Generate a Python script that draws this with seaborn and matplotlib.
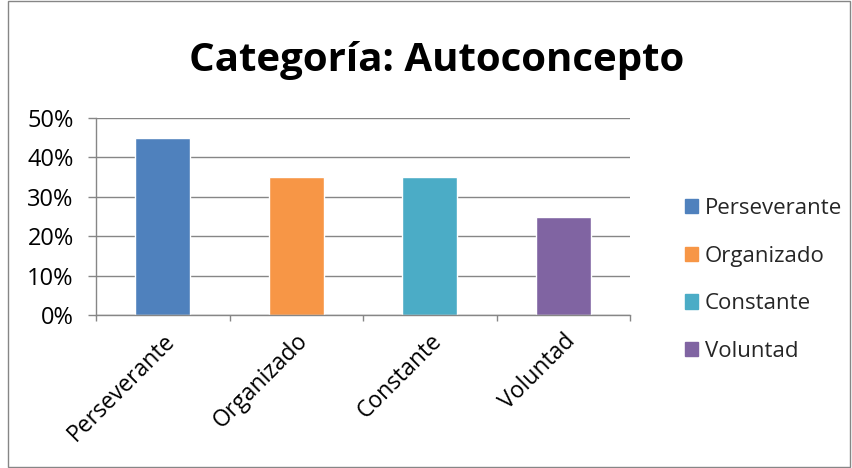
import matplotlib
matplotlib.use("Agg")
import matplotlib.pyplot as plt
import seaborn as sns
import pandas as pd
from matplotlib.patches import Rectangle
from matplotlib.ticker import FuncFormatter, MultipleLocator

categories = ["Perseverante", "Organizado", "Constante", "Voluntad"]
values = [0.45, 0.35, 0.35, 0.25]
colors = ["#4F81BD", "#F79646", "#4BACC6", "#8064A2"]
title = "Categoría: Autoconcepto"

sns.set_theme(style="white")
plt.rcParams["font.family"] = ["Open Sans", "DejaVu Sans"]

df = pd.DataFrame({"cat": categories, "val": values})

fig = plt.figure(figsize=(8.52, 4.68), dpi=100)
ax = fig.add_axes([96/852, 1-315/468, (630-96)/852, (315-118)/468])

sns.barplot(data=df, x="cat", y="val", hue="cat", palette=colors,
            width=0.41, ax=ax, legend=False, saturation=1)

gray = "#868686"
ax.set_ylim(0, 0.5)
ax.set_xlim(-0.5, 3.5)
ax.yaxis.set_major_locator(MultipleLocator(0.1))
ax.yaxis.set_major_formatter(FuncFormatter(lambda v, p: f"{v*100:.0f}%"))
ax.grid(axis="y", color=gray, linewidth=1)
ax.set_axisbelow(True)
for s in ["top", "right"]:
    ax.spines[s].set_visible(False)
for s in ["left", "bottom"]:
    ax.spines[s].set_color(gray)
    ax.spines[s].set_linewidth(1)
ax.set_xlabel("")
ax.set_ylabel("")
ax.tick_params(axis="y", which="major", length=6, color=gray, width=1,
               labelsize=17, pad=10, left=True, direction="out")
ax.set_xticks(range(len(categories)))
ax.set_xticklabels(categories, rotation=45, ha="right", rotation_mode="anchor",
                   fontsize=16.5)
ax.tick_params(axis="x", which="major", length=0, pad=10)
ax.set_xticks([-0.5, 0.5, 1.5, 2.5, 3.5], minor=True)
ax.tick_params(axis="x", which="minor", length=4.5, color=gray, width=1,
               bottom=True, direction="out")
for lbl in ax.get_xticklabels():
    lbl.set_color("#000000")
for lbl in ax.get_yticklabels():
    lbl.set_color("#000000")

fig.text(437/852, 1-60/468, title, ha="center", va="center",
         fontsize=29, fontweight="bold", color="#000000")

handles = [Rectangle((0, 0), 1, 1, color=c) for c in colors]
leg = fig.legend(handles, categories, loc="center left",
                 bbox_to_anchor=(665/852, 1-280/468), frameon=False,
                 fontsize=16, handlelength=0.6, handleheight=0.6,
                 handletextpad=0.3, labelspacing=1.2)

fig.patches.append(Rectangle((8/852, 0.003), 842/852, 0.994, transform=fig.transFigure,
                             fill=False, edgecolor=gray, linewidth=1))

fig.savefig("out.png", dpi=100)
